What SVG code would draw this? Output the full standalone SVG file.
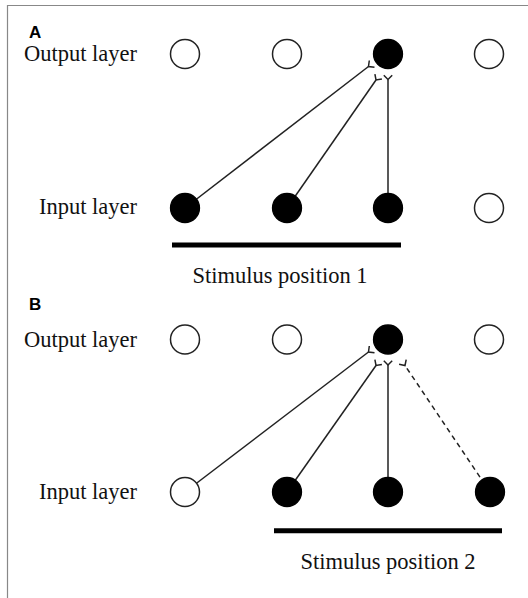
<svg xmlns="http://www.w3.org/2000/svg" width="528" height="598" viewBox="0 0 528 598">
<style>
.lbl{font-family:"Liberation Serif","Times New Roman",serif;font-size:22.5px;fill:#111}
.pan{font-family:"Liberation Sans",Arial,sans-serif;font-size:17px;font-weight:bold;fill:#000}
.on{fill:#000;stroke:#000;stroke-width:1.3}
.off{fill:#fff;stroke:#222;stroke-width:1.5}
.c{fill:none;stroke:#222;stroke-width:1.5}
.d{stroke-dasharray:5 4}
.bar{stroke:#000;stroke-width:5}
</style>
<rect width="528" height="598" fill="#fff"/>
<g id="frame" fill="none" stroke="#888" stroke-width="1.2">
<polyline points="528,5.5 7.5,5.5 7.5,598"/>
</g>
<g id="labels">
<text class="pan" x="29" y="37.5">A</text>
<text class="lbl" x="137" y="61" text-anchor="end">Output layer</text>
<text class="lbl" x="137" y="214" text-anchor="end">Input layer</text>
<text class="lbl" x="280" y="283" text-anchor="middle">Stimulus position 1</text>
<text class="pan" x="29" y="310">B</text>
<text class="lbl" x="137" y="346.5" text-anchor="end">Output layer</text>
<text class="lbl" x="137" y="498.5" text-anchor="end">Input layer</text>
<text class="lbl" x="388" y="569" text-anchor="middle">Stimulus position 2</text>
</g>
<g id="stimulus-bars">
<line class="bar" x1="172" y1="245" x2="401" y2="245"/>
<line class="bar" x1="274" y1="530.7" x2="502" y2="530.7"/>
</g>
<g id="connectors">
<polyline class="c" points="185,208 368.5,66.5"/>
<polyline class="c" points="374.5,67.3 368.5,66.5 369.3,60.5"/>
<polyline class="c" points="287,208 376,80"/>
<polyline class="c" points="381.9,78.9 376,80 374.9,74.1"/>
<polyline class="c" points="388,208 388,79.5"/>
<polyline class="c" points="383.8,75.3 388,79.5 392.2,75.3"/>
<polyline class="c" points="185,492 368.5,352"/>
<polyline class="c" points="374.5,352.8 368.5,352 369.3,346"/>
<polyline class="c" points="287,492 376,365.5"/>
<polyline class="c" points="381.9,364.4 376,365.5 374.9,359.6"/>
<polyline class="c" points="388,492 388,365"/>
<polyline class="c" points="383.8,360.8 388,365 392.2,360.8"/>
<polyline class="c d" points="490,492 405,365.5"/>
<polyline class="c" points="399.1,364.3 405,365.5 406.2,359.6"/>
</g>
<g id="A-out-1"><circle class="off" cx="185" cy="54" r="14.5"/></g>
<g id="A-out-2"><circle class="off" cx="287" cy="54" r="14.5"/></g>
<g id="A-out-3"><circle class="on" cx="388" cy="54" r="14.5"/></g>
<g id="A-out-4"><circle class="off" cx="489" cy="54" r="14.5"/></g>
<g id="A-in-1"><circle class="on" cx="185" cy="208" r="14.5"/></g>
<g id="A-in-2"><circle class="on" cx="287" cy="208" r="14.5"/></g>
<g id="A-in-3"><circle class="on" cx="388" cy="208" r="14.5"/></g>
<g id="A-in-4"><circle class="off" cx="489" cy="208" r="14.5"/></g>
<g id="B-out-1"><circle class="off" cx="185" cy="339.5" r="14.5"/></g>
<g id="B-out-2"><circle class="off" cx="287" cy="339.5" r="14.5"/></g>
<g id="B-out-3"><circle class="on" cx="388" cy="339.5" r="14.5"/></g>
<g id="B-out-4"><circle class="off" cx="489" cy="339.5" r="14.5"/></g>
<g id="B-in-1"><circle class="off" cx="185" cy="492" r="14.5"/></g>
<g id="B-in-2"><circle class="on" cx="287" cy="492" r="14.5"/></g>
<g id="B-in-3"><circle class="on" cx="388" cy="492" r="14.5"/></g>
<g id="B-in-4"><circle class="on" cx="490" cy="492" r="14.5"/></g>
</svg>
